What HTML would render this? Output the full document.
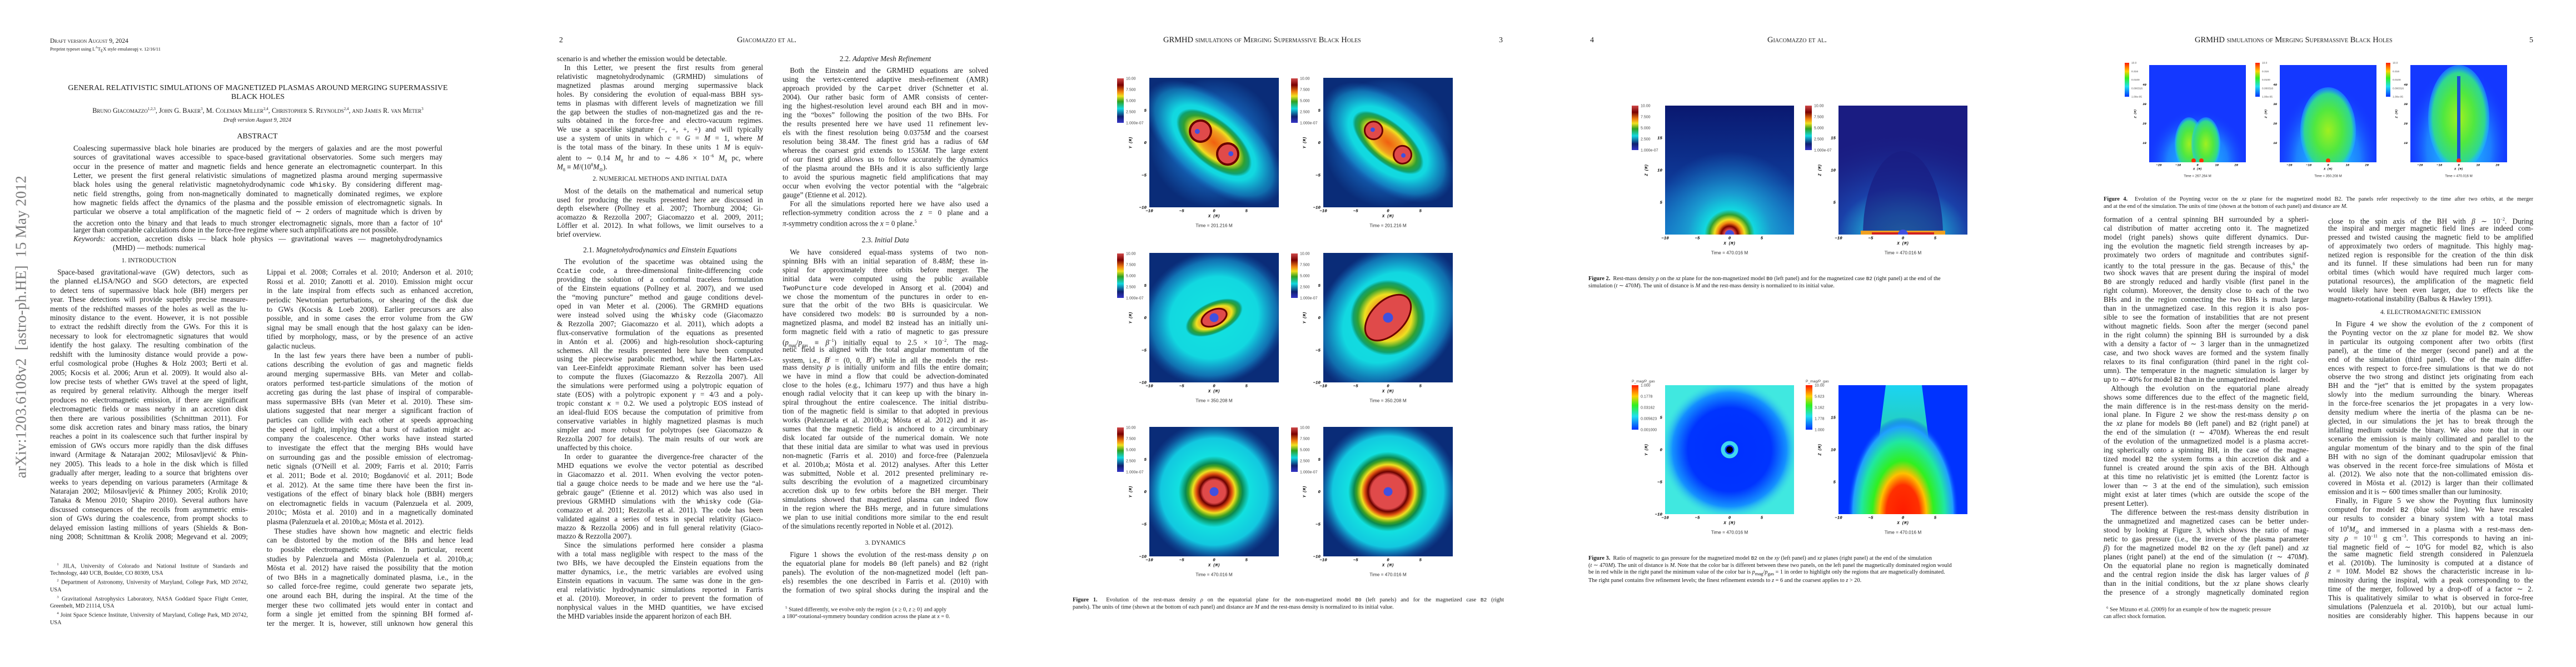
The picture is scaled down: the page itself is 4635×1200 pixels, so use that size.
<!DOCTYPE html>
<html><head><meta charset="utf-8">
<style>
html,body{margin:0;padding:0;background:#fff;}
body{width:4635px;height:1200px;position:relative;overflow:hidden;font-family:"Liberation Serif",serif;color:#1a1a1a;}
.a{position:absolute;white-space:nowrap;}
.ln{position:absolute;white-space:nowrap;text-align:justify;text-align-last:justify;overflow:visible;}
.ln.e{text-align:left;text-align-last:left;}
.ln.i{text-indent:1em;}
.sc{font-variant:small-caps;}
.hd{position:absolute;white-space:nowrap;text-align:center;}
code,.tt{font-family:"Liberation Mono",monospace;font-size:0.92em;}
svg text{font-family:"Liberation Sans",sans-serif;}
</style></head>
<body>

<!-- arXiv stamp -->
<div class="a" style="left:38px;top:588px;transform:translate(-50%,-50%) rotate(-90deg);font-size:27px;color:#7a7a7a;letter-spacing:0.3px;">arXiv:1203.6108v2&nbsp; [astro-ph.HE]&nbsp; 15 May 2012</div>

<!-- Page 1 header -->
<div class="a sc" style="left:90px;top:68px;font-size:11.5px;">Draft version August 9, 2024</div>
<div class="a" style="left:90px;top:83px;font-size:8.5px;">Preprint typeset using L<sup style="font-size:6px">A</sup>T<sub style="font-size:7px">E</sub>X style emulateapj v. 12/16/11</div>
<div class="hd" style="left:95px;width:738px;top:151px;font-size:14px;line-height:15.5px;">GENERAL RELATIVISTIC SIMULATIONS OF MAGNETIZED PLASMAS AROUND MERGING SUPERMASSIVE<br>BLACK HOLES</div>
<div class="hd sc" style="left:60px;width:808px;top:192px;font-size:12.3px;">Bruno Giacomazzo<sup style="font-size:7px">1,2,3</sup>, John G. Baker<sup style="font-size:7px">3</sup>, M. Coleman Miller<sup style="font-size:7px">2,4</sup>, Christopher S. Reynolds<sup style="font-size:7px">2,4</sup>, and James R. van Meter<sup style="font-size:7px">3</sup></div>
<div class="hd" style="left:263px;width:400px;top:211px;font-size:10.5px;font-style:italic;">Draft version August 9, 2024</div>
<div class="hd" style="left:363px;width:200px;top:238px;font-size:14px;">ABSTRACT</div>

<div id="cols"></div>

<!-- footnotes page 1 -->
<div class="a" style="left:90px;top:1009px;width:356px;font-size:10.3px;line-height:13px;white-space:normal;text-align:justify;">
<div style="text-indent:1.2em"><sup style="font-size:6.5px">1</sup> JILA, University of Colorado and National Institute of Standards and Technology, 440 UCB, Boulder, CO 80309, USA</div>
<div style="text-indent:1.2em"><sup style="font-size:6.5px">2</sup> Department of Astronomy, University of Maryland, College Park, MD 20742, USA</div>
<div style="text-indent:1.2em"><sup style="font-size:6.5px">3</sup> Gravitational Astrophysics Laboratory, NASA Goddard Space Flight Center, Greenbelt, MD 21114, USA</div>
<div style="text-indent:1.2em"><sup style="font-size:6.5px">4</sup> Joint Space Science Institute, University of Maryland, College Park, MD 20742, USA</div>
</div>

<!-- running headers -->
<div class="a" style="left:1006px;top:65px;font-size:14px;">2</div>
<div class="a sc" style="left:1326px;top:64px;font-size:14.5px;">Giacomazzo et al.</div>
<div class="a sc" style="left:2093px;top:64px;font-size:14.5px;">GRMHD simulations of Merging Supermassive Black Holes</div>
<div class="a" style="left:2697px;top:65px;font-size:14px;">3</div>
<div class="a" style="left:2861px;top:65px;font-size:14px;">4</div>
<div class="a sc" style="left:3180px;top:64px;font-size:14.5px;">Giacomazzo et al.</div>
<div class="a sc" style="left:3949px;top:64px;font-size:14.5px;">GRMHD simulations of Merging Supermassive Black Holes</div>
<div class="a" style="left:4551px;top:65px;font-size:14px;">5</div>

<!-- captions -->
<div class="a" style="left:1930px;top:1073px;width:776px;font-size:10.3px;line-height:13px;">
<div style="text-align:justify;text-align-last:justify;"><b>Figure 1.</b>&nbsp; Evolution of the rest-mass density <i>ρ</i> on the equatorial plane for the non-magnetized model <span class="tt">B0</span> (left panels) and for the magnetized case <span class="tt">B2</span> (right</div>
<div>panels). The units of time (shown at the bottom of each panel) and distance are <i>M</i> and the rest-mass density is normalized to its initial value.</div></div>
<div class="a" style="left:2858px;top:495px;width:1000px;font-size:10.3px;line-height:13px;">
<div><b>Figure 2.</b>&nbsp; Rest-mass density <i>ρ</i> on the <i>xz</i> plane for the non-magnetized model <span class="tt">B0</span> (left panel) and for the magnetized case <span class="tt">B2</span> (right panel) at the end of the</div>
<div>simulation (<i>t</i> ∼ 470<i>M</i>). The unit of distance is <i>M</i> and the rest-mass density is normalized to its initial value.</div></div>
<div class="a" style="left:2858px;top:999px;width:1000px;font-size:10.3px;line-height:12.7px;">
<div><b>Figure 3.</b>&nbsp; Ratio of magnetic to gas pressure for the magnetized model <span class="tt">B2</span> on the <i>xy</i> (left panel) and <i>xz</i> planes (right panel) at the end of the simulation</div>
<div>(<i>t</i> ∼ 470<i>M</i>). The unit of distance is <i>M</i>. Note that the color bar is different between these two panels, on the left panel the magnetically dominated region would</div>
<div>be in red while in the right panel the minimum value of the color bar is <i>p</i><sub>mag</sub>/<i>p</i><sub>gas</sub> = 1 in order to highlight only the regions that are magnetically dominated.</div>
<div>The right panel contains five refinement levels; the finest refinement extends to <i>z</i> = 6 and the coarsest applies to <i>z</i> &gt; 20.</div></div>
<div class="a" style="left:3785px;top:352px;width:773px;font-size:10.3px;line-height:13px;">
<div style="text-align:justify;text-align-last:justify;"><b>Figure 4.</b>&nbsp; Evolution of the Poynting vector on the <i>xz</i> plane for the magnetized model B2. The panels refer respectively to the time after two orbits, at the merger</div>
<div>and at the end of the simulation. The units of time (shown at the bottom of each panel) and distance are <i>M</i>.</div></div>

<!-- footnotes -->
<div class="a" style="left:1408px;top:1088px;font-size:10.3px;line-height:12.5px;">
<div>&nbsp;&nbsp;<sup style="font-size:6.5px">5</sup> Stated differently, we evolve only the region {<i>x</i> ≥ 0, <i>z</i> ≥ 0} and apply</div>
<div>a 180°-rotational-symmetry boundary condition across the plane at <i>x</i> = 0.</div></div>
<div class="a" style="left:3785px;top:1088px;font-size:10.3px;line-height:12.5px;">
<div>&nbsp;&nbsp;<sup style="font-size:6.5px">6</sup> See Mizuno et al. (2009) for an example of how the magnetic pressure</div>
<div>can affect shock formation.</div></div>

<svg id="figs" width="4635" height="1200" style="position:absolute;left:0;top:0;" xmlns="http://www.w3.org/2000/svg">
<defs>
<radialGradient id="bgN"><stop offset="0" stop-color="#1a8cd2"/><stop offset="0.55" stop-color="#1464b8"/><stop offset="1" stop-color="#0a2c78"/></radialGradient>
<radialGradient id="halo"><stop offset="0" stop-color="#12e4e0"/><stop offset="0.6" stop-color="#12d8e0"/><stop offset="0.85" stop-color="#1498d0" stop-opacity="0.6"/><stop offset="1" stop-color="#1464b8" stop-opacity="0"/></radialGradient>
<radialGradient id="lobe"><stop offset="0" stop-color="#f06010"/><stop offset="0.45" stop-color="#f0a020"/><stop offset="0.62" stop-color="#f0e020"/><stop offset="0.8" stop-color="#30a030"/><stop offset="0.92" stop-color="#10a070"/><stop offset="1" stop-color="#12d8e0"/></radialGradient>
<radialGradient id="concA"><stop offset="0" stop-color="#e04a4a"/><stop offset="0.16" stop-color="#e04a4a"/><stop offset="0.2" stop-color="#6a0000"/><stop offset="0.25" stop-color="#e05010"/><stop offset="0.3" stop-color="#f0e020"/><stop offset="0.36" stop-color="#40a020"/><stop offset="0.4" stop-color="#0a8a50"/><stop offset="0.5" stop-color="#12e0e0"/><stop offset="0.75" stop-color="#12c8e0"/><stop offset="1" stop-color="#1464b8" stop-opacity="0"/></radialGradient>
<radialGradient id="concB"><stop offset="0" stop-color="#e04a4a"/><stop offset="0.24" stop-color="#e04a4a"/><stop offset="0.28" stop-color="#6a0000"/><stop offset="0.33" stop-color="#e05010"/><stop offset="0.38" stop-color="#f0e020"/><stop offset="0.44" stop-color="#40a020"/><stop offset="0.48" stop-color="#0a8a50"/><stop offset="0.56" stop-color="#12e0e0"/><stop offset="0.78" stop-color="#12c8e0"/><stop offset="1" stop-color="#1464b8" stop-opacity="0"/></radialGradient>
<linearGradient id="navyV" x1="0" y1="0" x2="0" y2="1"><stop offset="0" stop-color="#0a1870"/><stop offset="0.6" stop-color="#0e3a98"/><stop offset="1" stop-color="#1676c8"/></linearGradient>
<radialGradient id="bowl"><stop offset="0" stop-color="#4050e0"/><stop offset="0.05" stop-color="#4050e0"/><stop offset="0.06" stop-color="#e04a4a"/><stop offset="0.1" stop-color="#7a0000"/><stop offset="0.14" stop-color="#f08010"/><stop offset="0.18" stop-color="#f0e020"/><stop offset="0.24" stop-color="#30a030"/><stop offset="0.3" stop-color="#12d8e0"/><stop offset="0.5" stop-color="#1a9ad0"/><stop offset="1" stop-color="#1676c8" stop-opacity="0"/></radialGradient>
<radialGradient id="cyanBowl"><stop offset="0" stop-color="#30e8e0"/><stop offset="0.2" stop-color="#20b0d8"/><stop offset="0.45" stop-color="#1a40a8"/><stop offset="1" stop-color="#1a1a80" stop-opacity="0"/></radialGradient>
<radialGradient id="blueDisk"><stop offset="0" stop-color="#0030ff"/><stop offset="0.6" stop-color="#0034ff"/><stop offset="0.82" stop-color="#1490ff"/><stop offset="1" stop-color="#40e8e0" stop-opacity="0"/></radialGradient>
<radialGradient id="plume"><stop offset="0" stop-color="#ff1a00"/><stop offset="0.3" stop-color="#ff3000"/><stop offset="0.42" stop-color="#ffc000"/><stop offset="0.55" stop-color="#30f020"/><stop offset="0.75" stop-color="#20e8a0"/><stop offset="0.9" stop-color="#20a0ff"/><stop offset="1" stop-color="#0033ff" stop-opacity="0"/></radialGradient>
<linearGradient id="cone" x1="0" y1="0" x2="0" y2="1"><stop offset="0" stop-color="#20f0f0"/><stop offset="1" stop-color="#30e890"/></linearGradient>
<radialGradient id="pHalo"><stop offset="0" stop-color="#20e0ff"/><stop offset="0.6" stop-color="#20a0ff" stop-opacity="0.7"/><stop offset="1" stop-color="#1438ff" stop-opacity="0"/></radialGradient>
<radialGradient id="pLobe"><stop offset="0" stop-color="#a0f020"/><stop offset="0.5" stop-color="#50e840"/><stop offset="0.85" stop-color="#30d890"/><stop offset="1" stop-color="#20c0ff" stop-opacity="0.4"/></radialGradient>
<linearGradient id="cbDens" x1="0" y1="0" x2="0" y2="1"><stop offset="0" stop-color="#d04a4a"/><stop offset="0.15" stop-color="#7a0000"/><stop offset="0.3" stop-color="#f08010"/><stop offset="0.4" stop-color="#f0e020"/><stop offset="0.52" stop-color="#30a020"/><stop offset="0.68" stop-color="#12d8e0"/><stop offset="0.86" stop-color="#102070"/><stop offset="1" stop-color="#3535c8"/></linearGradient>
<linearGradient id="cbJet" x1="0" y1="0" x2="0" y2="1"><stop offset="0" stop-color="#ff1a00"/><stop offset="0.25" stop-color="#ffd000"/><stop offset="0.45" stop-color="#30f020"/><stop offset="0.7" stop-color="#20e0f0"/><stop offset="1" stop-color="#0030ff"/></linearGradient>
</defs>

<!-- Figure 1 panels -->
<svg x="2068" y="140" width="233" height="233">
<rect width="233" height="233" fill="url(#bgN)"/>
<g transform="translate(116.5,116.5) rotate(40)"><ellipse rx="150" ry="76" fill="url(#halo)"/><ellipse rx="82" ry="40" fill="url(#lobe)"/>
<circle cx="-32" r="19" fill="#e04a4a" stroke="#6a0000" stroke-width="4"/><circle cx="32" r="19" fill="#e04a4a" stroke="#6a0000" stroke-width="4"/>
<circle cx="-36" cy="4" r="4.5" fill="#4050e0"/><circle cx="36" cy="-4" r="4.5" fill="#4050e0"/></g></svg>
<svg x="2381" y="140" width="233" height="233">
<rect width="233" height="233" fill="url(#bgN)"/>
<g transform="translate(116.5,116.5) rotate(40)"><ellipse rx="140" ry="80" fill="url(#halo)"/><ellipse rx="78" ry="36" fill="url(#lobe)"/>
<circle cx="-34" r="16" fill="#e04a4a" stroke="#6a0000" stroke-width="3"/><circle cx="34" r="16" fill="#e04a4a" stroke="#6a0000" stroke-width="3"/>
<circle cx="-36" cy="0" r="4" fill="#4050e0"/><circle cx="36" cy="0" r="4" fill="#4050e0"/></g></svg>
<svg x="2068" y="455" width="233" height="233">
<rect width="233" height="233" fill="url(#bgN)"/>
<g transform="translate(116.5,116.5) rotate(-25)"><ellipse rx="135" ry="120" fill="url(#halo)"/><ellipse rx="55" ry="28" fill="url(#lobe)"/>
<ellipse rx="24" ry="14" fill="#e04a4a" stroke="#6a0000" stroke-width="3"/><circle r="8" fill="#4050e0"/></g></svg>
<svg x="2381" y="455" width="233" height="233">
<rect width="233" height="233" fill="url(#bgN)"/>
<g transform="translate(116.5,116.5) rotate(-45)"><ellipse rx="150" ry="118" fill="url(#halo)"/><circle r="68" fill="url(#lobe)"/>
<ellipse rx="50" ry="30" fill="#e04a4a" stroke="#6a0000" stroke-width="3"/><circle r="9" fill="#4050e0"/></g></svg>
<svg x="2068" y="768" width="233" height="233">
<rect width="233" height="233" fill="url(#bgN)"/><circle cx="116.5" cy="116.5" r="128" fill="url(#concA)"/><circle cx="116.5" cy="116.5" r="8" fill="#4050e0"/></svg>
<svg x="2381" y="768" width="233" height="233">
<rect width="233" height="233" fill="url(#bgN)"/><circle cx="116.5" cy="116.5" r="128" fill="url(#concB)"/><circle cx="116.5" cy="116.5" r="8" fill="#4050e0"/></svg>

<!-- Figure 2 -->
<svg x="2996" y="190" width="232" height="232">
<rect width="232" height="232" fill="url(#navyV)"/><circle cx="116" cy="232" r="150" fill="url(#bowl)"/></svg>
<svg x="3308" y="190" width="232" height="232">
<rect width="232" height="232" fill="#1a1c82"/><ellipse cx="116" cy="232" rx="260" ry="190" fill="url(#cyanBowl)"/>
<ellipse cx="116" cy="232" rx="72" ry="150" fill="#1a1c82" opacity="0.7"/>
<rect x="40" y="225" width="152" height="7" fill="#f0a020"/><rect x="60" y="228" width="112" height="4" fill="#d02020"/><circle cx="116" cy="232" r="9" fill="#4050e0"/></svg>

<!-- Figure 3 -->
<svg x="2996" y="693" width="232" height="232">
<rect width="232" height="232" fill="#40e8e0"/><circle cx="116" cy="116" r="125" fill="url(#blueDisk)"/>
<circle cx="116" cy="116" r="12" fill="none" stroke="#40d8f0" stroke-width="7"/><circle cx="116" cy="116" r="6" fill="#000"/></svg>
<svg x="3308" y="693" width="232" height="232">
<rect width="232" height="232" fill="#0033ff"/><path d="M85,0 L150,0 L165,120 L70,120 Z" fill="url(#cone)" opacity="0.85"/>
<ellipse cx="116" cy="232" rx="100" ry="175" fill="url(#plume)"/></svg>

<!-- Figure 4 -->
<svg x="3867" y="117" width="174" height="175">
<rect width="174" height="175" fill="#1438ff"/><ellipse cx="87" cy="175" rx="90" ry="95" fill="url(#pHalo)"/>
<ellipse cx="72" cy="142" rx="26" ry="48" fill="url(#pLobe)"/><ellipse cx="102" cy="142" rx="26" ry="48" fill="url(#pLobe)"/>
<circle cx="80" cy="172" r="4" fill="#ff3000"/><circle cx="94" cy="172" r="4" fill="#ff3000"/></svg>
<svg x="4102" y="117" width="174" height="175">
<rect width="174" height="175" fill="#1438ff"/><ellipse cx="87" cy="175" rx="95" ry="140" fill="url(#pHalo)"/>
<ellipse cx="87" cy="118" rx="50" ry="78" fill="url(#pLobe)"/><circle cx="87" cy="172" r="4" fill="#ff3000"/></svg>
<svg x="4337" y="117" width="174" height="175">
<rect width="174" height="175" fill="#1438ff"/><ellipse cx="87" cy="150" rx="95" ry="150" fill="url(#pHalo)"/>
<ellipse cx="87" cy="95" rx="55" ry="95" fill="url(#pLobe)"/><rect x="84" y="20" width="6" height="155" fill="#1a50d0"/><circle cx="87" cy="172" r="4" fill="#ff3000"/></svg>
<g id="axes"></g>
</svg>

<script>
// ---------- figure axes / colorbars data ----------
const densCbLabels = ["10.00","7.500","5.000","2.500","1.000e-07"];
const pmLeftCbLabels = ["1.000","0.1778","0.03162","0.005623","0.001000"];
const pmRightCbLabels = ["10.00","5.623","3.162","1.778","1.000"];
const poyCbLabels = ["10.0","0.316","0.0100","0.000316","1.00e-05"];
const xyTicks = [-10,-5,0,5];
const yTicksXY = [5,0,-5,-10];
const zTicks = [5,10,15];
const xTicksWide = [-20,-10,0,10,20];
const zTicksWide = [10,20,30,40];
const fig1Times = ["201.216","350.208","470.016"];
const fig4Times = ["267.264","350.208","470.016"];

const NS="http://www.w3.org/2000/svg";
const axesG=document.getElementById('axes');
function txt(x,y,s,size,anchor,extra){
  const t=document.createElementNS(NS,'text');
  t.setAttribute('x',x);t.setAttribute('y',y);t.setAttribute('font-size',size);
  t.setAttribute('text-anchor',anchor||'start');
  if(extra) t.setAttribute('style',extra);
  t.textContent=s;axesG.appendChild(t);return t;
}
function panelAxes(p){
  const sx=v=>p.x+(v-p.xr[0])/(p.xr[1]-p.xr[0])*p.w;
  const sy=v=>p.y+p.h-(v-p.yr[0])/(p.yr[1]-p.yr[0])*p.h;
  const tk="font-weight:bold;font-style:italic;font-family:'Liberation Mono',monospace;";
  p.xt.forEach(v=>{const t=txt(sx(v),p.y+p.h+p.fs+1,String(v).replace('-','−'),p.fs,'middle',tk);
    
    });
  p.yt.forEach(v=>{const t=txt(p.x-5,sy(v)+p.fs*0.35,String(v).replace('-','−'),p.fs,'end',tk);
    
    });
  const xl=txt(p.x+p.w/2,p.y+p.h+p.fs*2.4,p.xlab,p.fs*0.95,'middle',tk);
  
  
  const ylx=p.x-p.fs*4.2, yly=p.y+p.h/2;
  const yl=txt(ylx,yly,p.ylab,p.fs*0.95,'middle',tk);
  yl.setAttribute('transform','rotate(-90 '+ylx+' '+yly+')');
  
  
  const tl=txt(p.x+p.w/2,p.y+p.h+p.fs*4.7,'Time = '+p.time+' M',p.fs*1.1,'middle','fill:#333;');
  
  
  // colorbar
  const r=document.createElementNS(NS,'rect');
  r.setAttribute('x',p.cbx);r.setAttribute('y',p.cby);r.setAttribute('width',p.cbw);r.setAttribute('height',p.cbh);
  r.setAttribute('fill',p.cbg);
  
  
  axesG.appendChild(r);
  p.cbl.forEach((s,i)=>{const t=txt(p.cbx+p.cbw+4,p.cby+i*p.cbh/(p.cbl.length-1)+p.cfs*0.35,s,p.cfs,'start','fill:#444;');
    
    });
  if(p.cbt){const t=txt(p.cbx,p.cby-5,p.cbt,p.cfs*0.95,'start','fill:#444;');
    
    }
}
[2068,2381].forEach(px=>{[140,455,768].forEach((py,ri)=>{
  panelAxes({x:px,y:py,w:233,h:233,xr:[-10,10],yr:[-10,10],xt:xyTicks,yt:yTicksXY,xlab:'X  (M)',ylab:'Y  (M)',fs:7.5,time:fig1Times[ri],
    cbx:px-58,cby:py+1,cbw:12,cbh:80,cbg:'url(#cbDens)',cbl:densCbLabels,cfs:7});});});
[2996,3308].forEach(px=>{
  panelAxes({x:px,y:190,w:232,h:232,xr:[-10,10],yr:[0,20],xt:xyTicks,yt:zTicks,xlab:'X  (M)',ylab:'Z  (M)',fs:7.5,time:'470.016',
    cbx:px-60,cby:190,cbw:12,cbh:80,cbg:'url(#cbDens)',cbl:densCbLabels,cfs:7});});
panelAxes({x:2996,y:693,w:232,h:232,xr:[-10,10],yr:[-10,10],xt:xyTicks,yt:yTicksXY,xlab:'X  (M)',ylab:'Y  (M)',fs:7.5,time:'470.016',
  cbx:2936,cby:693,cbw:12,cbh:80,cbg:'url(#cbJet)',cbl:pmLeftCbLabels,cfs:7,cbt:'P_mag/P_gas'});
panelAxes({x:3308,y:693,w:232,h:232,xr:[-10,10],yr:[0,20],xt:xyTicks,yt:zTicks,xlab:'X  (M)',ylab:'Z  (M)',fs:7.5,time:'470.016',
  cbx:3249,cby:693,cbw:12,cbh:80,cbg:'url(#cbJet)',cbl:pmRightCbLabels,cfs:7,cbt:'P_mag/P_gas'});
[3867,4102,4337].forEach((px,i)=>{
  panelAxes({x:px,y:117,w:174,h:175,xr:[-25,25],yr:[0,50],xt:xTicksWide,yt:zTicksWide,xlab:'X  (M)',ylab:'Z  (M)',fs:5.6,time:fig4Times[i],
    cbx:px-44,cby:113,cbw:8,cbh:61,cbg:'url(#cbJet)',cbl:poyCbLabels,cfs:4.8});});

// ---------- text columns ----------
const colsDiv=document.getElementById('cols');
function col(x,w,first,last,lines,fs){
  const n=lines.length, lh=n>1?(last-first)/(n-1):16;
  lines.forEach((s,i)=>{
    const d=document.createElement('div');
    let cls='ln';
    if(s.startsWith('^')){s=s.slice(1);cls+=' i';}
    if(s.endsWith('$')){s=s.slice(0,-1);cls+=' e';}
    d.className=cls;
    d.style.left=x+'px';d.style.width=w+'px';
    d.style.top=(first+i*lh-9)+'px';d.style.height='18px';d.style.lineHeight='18px';
    d.style.fontSize=(fs||13.2)+'px';
    d.innerHTML=s;
    
    
    colsDiv.appendChild(d);
  });
}
function head(x,w,y,s,style){
  const d=document.createElement('div');
  d.className='hd';d.style.left=x+'px';d.style.width=w+'px';d.style.top=(y-9)+'px';
  d.style.lineHeight='18px';d.style.cssText+=style||'font-size:11.5px;';
  d.innerHTML=s;
  
  
  colsDiv.appendChild(d);
}

col(132,664,267,414,[
"Coalescing supermassive black hole binaries are produced by the mergers of galaxies and are the most powerful",
"sources of gravitational waves accessible to space-based gravitational observatories. Some such mergers may",
"occur in the presence of matter and magnetic fields and hence generate an electromagnetic counterpart. In this",
"Letter, we present the first general relativistic simulations of magnetized plasma around merging supermassive",
"black holes using the general relativistic magnetohydrodynamic code <span class='tt'>Whisky</span>. By considering different mag-",
"netic field strengths, going from non-magnetically dominated to magnetically dominated regimes, we explore",
"how magnetic fields affect the dynamics of the plasma and the possible emission of electromagnetic signals. In",
"particular we observe a total amplification of the magnetic field of ∼ 2 orders of magnitude which is driven by",
"the accretion onto the binary and that leads to much stronger electromagnetic signals, more than a factor of 10<sup style='font-size:8px'>4</sup>",
"larger than comparable calculations done in the force-free regime where such amplifications are not possible.$"],13.4);
col(132,664,430,430,["<i>Keywords:</i> accretion, accretion disks — black hole physics — gravitational waves — magnetohydrodynamics"],13.4);
col(203,400,446,446,["(MHD) — methods: numerical$"],13.4);
head(90,356,469,"1. INTRODUCTION");

col(90,356,490,966,[
"^Space-based gravitational-wave (GW) detectors, such as",
"the planned eLISA/NGO and SGO detectors, are expected",
"to detect tens of supermassive black hole (BH) mergers per",
"year. These detections will provide superbly precise measure-",
"ments of the redshifted masses of the holes as well as the lu-",
"minosity distance to the event. However, it is not possible",
"to extract the redshift directly from the GWs. For this it is",
"necessary to look for electromagnetic signatures that would",
"identify the host galaxy. The resulting combination of the",
"redshift with the luminosity distance would provide a pow-",
"erful cosmological probe (Hughes &amp; Holz 2003; Berti et al.",
"2005; Kocsis et al. 2006; Arun et al. 2009). It would also al-",
"low precise tests of whether GWs travel at the speed of light,",
"as required by general relativity. Although the merger itself",
"produces no electromagnetic emission, if there are significant",
"electromagnetic fields or mass nearby in an accretion disk",
"then there are various possibilities (Schnittman 2011). For",
"some disk accretion rates and binary mass ratios, the binary",
"reaches a point in its coalescence such that further inspiral by",
"emission of GWs occurs more rapidly than the disk diffuses",
"inward (Armitage &amp; Natarajan 2002; Milosavljević &amp; Phin-",
"ney 2005). This leads to a hole in the disk which is filled",
"gradually after merger, leading to a source that brightens over",
"weeks to years depending on various parameters (Armitage &amp;",
"Natarajan 2002; Milosavljević &amp; Phinney 2005; Krolik 2010;",
"Tanaka &amp; Menou 2010; Shapiro 2010). Several authors have",
"discussed consequences of the recoils from asymmetric emis-",
"sion of GWs during the coalescence, from prompt shocks to",
"delayed emission lasting millions of years (Shields &amp; Bon-",
"ning 2008; Schnittman &amp; Krolik 2008; Megevand et al. 2009;"]);

col(480,371,490,1122,[
"Lippai et al. 2008; Corrales et al. 2010; Anderson et al. 2010;",
"Rossi et al. 2010; Zanotti et al. 2010). Emission might occur",
"in the late inspiral from effects such as enhanced accretion,",
"periodic Newtonian perturbations, or shearing of the disk due",
"to GWs (Kocsis &amp; Loeb 2008). Earlier precursors are also",
"possible, and in some cases the error volume from the GW",
"signal may be small enough that the host galaxy can be iden-",
"tified by morphology, mass, or by the presence of an active",
"galactic nucleus.$",
"^In the last few years there have been a number of publi-",
"cations describing the evolution of gas and magnetic fields",
"around merging supermassive BHs. van Meter and collab-",
"orators performed test-particle simulations of the motion of",
"accreting gas during the last phase of inspiral of comparable-",
"mass supermassive BHs (van Meter et al. 2010). These sim-",
"ulations suggested that near merger a significant fraction of",
"particles can collide with each other at speeds approaching",
"the speed of light, implying that a burst of radiation might ac-",
"company the coalescence. Other works have instead started",
"to investigate the effect that the merging BHs would have",
"on surrounding gas and the possible emission of electromag-",
"netic signals (O'Neill et al. 2009; Farris et al. 2010; Farris",
"et al. 2011; Bode et al. 2010; Bogdanović et al. 2011; Bode",
"et al. 2012). At the same time there have been the first in-",
"vestigations of the effect of binary black hole (BBH) mergers",
"on electromagnetic fields in vacuum (Palenzuela et al. 2009,",
"2010c; Mösta et al. 2010) and in a magnetically dominated",
"plasma (Palenzuela et al. 2010b,a; Mösta et al. 2012).$",
"^These studies have shown how magnetic and electric fields",
"can be distorted by the motion of the BHs and hence lead",
"to possible electromagnetic emission. In particular, recent",
"studies by Palenzuela and Mösta (Palenzuela et al. 2010b,a;",
"Mösta et al. 2012) have raised the possibility that the motion",
"of two BHs in a magnetically dominated plasma, i.e., in the",
"so called force-free regime, could generate two separate jets,",
"one around each BH, during the inspiral. At the time of the",
"merger these two collimated jets would enter in contact and",
"form a single jet emitted from the spinning BH formed af-",
"ter the merger. It is, however, still unknown how general this"]);

// page 2 left
col(1002,371,106,297,[
"scenario is and whether the emission would be detectable.$",
"^In this Letter, we present the first results from general",
"relativistic magnetohydrodynamic (GRMHD) simulations of",
"magnetized plasmas around merging supermassive black",
"holes. By considering the evolution of equal-mass BBH sys-",
"tems in plasmas with different levels of magnetization we fill",
"the gap between the studies of non-magnetized gas and the re-",
"sults obtained in the force-free and electro-vacuum regimes.",
"We use a spacelike signature (−, +, +, +) and will typically",
"use a system of units in which <i>c</i> = <i>G</i> = <i>M</i> = 1, where <i>M</i>",
"is the total mass of the binary. In these units 1 <i>M</i> is equiv-",
"alent to ∼ 0.14 <i>M</i><sub style='font-size:8px'>8</sub> hr and to ∼ 4.86 × 10<sup style='font-size:8px'>−6</sup> <i>M</i><sub style='font-size:8px'>8</sub> pc, where",
"<i>M</i><sub style='font-size:8px'>8</sub> ≡ <i>M</i>/(10<sup style='font-size:8px'>8</sup><i>M</i><sub style='font-size:8px'>⊙</sub>).$"]);
head(1002,371,322,"2. NUMERICAL METHODS AND INITIAL DATA");
col(1002,371,344,422,[
"^Most of the details on the mathematical and numerical setup",
"used for producing the results presented here are discussed in",
"depth elsewhere (Pollney et al. 2007; Thornburg 2004; Gi-",
"acomazzo &amp; Rezzolla 2007; Giacomazzo et al. 2009, 2011;",
"Löffler et al. 2012). In what follows, we limit ourselves to a",
"brief overview.$"]);
head(1002,371,450,"2.1. <i>Magnetohydrodynamics and Einstein Equations</i>","font-size:13.2px;");
col(1002,371,471,1109,[
"^The evolution of the spacetime was obtained using the",
"<span class='tt'>Ccatie</span> code, a three-dimensional finite-differencing code",
"providing the solution of a conformal traceless formulation",
"of the Einstein equations (Pollney et al. 2007), and we used",
"the “moving puncture” method and gauge conditions devel-",
"oped in van Meter et al. (2006). The GRMHD equations",
"were instead solved using the <span class='tt'>Whisky</span> code (Giacomazzo",
"&amp; Rezzolla 2007; Giacomazzo et al. 2011), which adopts a",
"flux-conservative formulation of the equations as presented",
"in Antón et al. (2006) and high-resolution shock-capturing",
"schemes. All the results presented here have been computed",
"using the piecewise parabolic method, while the Harten-Lax-",
"van Leer-Einfeldt approximate Riemann solver has been used",
"to compute the fluxes (Giacomazzo &amp; Rezzolla 2007). All",
"the simulations were performed using a polytropic equation of",
"state (EOS) with a polytropic exponent <i>γ</i> = 4/3 and a poly-",
"tropic constant <i>κ</i> = 0.2. We used a polytropic EOS instead of",
"an ideal-fluid EOS because the computation of primitive from",
"conservative variables in highly magnetized plasmas is much",
"simpler and more robust for polytropes (see Giacomazzo &amp;",
"Rezzolla 2007 for details). The main results of our work are",
"unaffected by this choice.$",
"^In order to guarantee the divergence-free character of the",
"MHD equations we evolve the vector potential as described",
"in Giacomazzo et al. 2011. When evolving the vector poten-",
"tial a gauge choice needs to be made and we here use the “al-",
"gebraic gauge” (Etienne et al. 2012) which was also used in",
"previous GRMHD simulations with the <span class='tt'>Whisky</span> code (Gia-",
"comazzo et al. 2011; Rezzolla et al. 2011). The code has been",
"validated against a series of tests in special relativity (Giaco-",
"mazzo &amp; Rezzolla 2006) and in full general relativity (Giaco-",
"mazzo &amp; Rezzolla 2007).$",
"^Since the simulations performed here consider a plasma",
"with a total mass negligible with respect to the mass of the",
"two BHs, we have decoupled the Einstein equations from the",
"matter dynamics, i.e., the metric variables are evolved using",
"Einstein equations in vacuum. The same was done in the gen-",
"eral relativistic hydrodynamic simulations reported in Farris",
"et al. (2010). Moreover, in order to prevent the formation of",
"nonphysical values in the MHD quantities, we have excised",
"the MHD variables inside the apparent horizon of each BH.$"]);

// page 2 right
head(1408,370,106,"2.2. <i>Adaptive Mesh Refinement</i>","font-size:13.2px;");
col(1408,370,127,399,[
"^Both the Einstein and the GRMHD equations are solved",
"using the vertex-centered adaptive mesh-refinement (AMR)",
"approach provided by the <span class='tt'>Carpet</span> driver (Schnetter et al.",
"2004). Our rather basic form of AMR consists of center-",
"ing the highest-resolution level around each BH and in mov-",
"ing the “boxes” following the position of the two BHs. For",
"the results presented here we have used 11 refinement lev-",
"els with the finest resolution being 0.0375<i>M</i> and the coarsest",
"resolution being 38.4<i>M</i>. The finest grid has a radius of 6<i>M</i>",
"whereas the coarsest grid extends to 1536<i>M</i>. The large extent",
"of our finest grid allows us to follow accurately the dynamics",
"of the plasma around the BHs and it is also sufficiently large",
"to avoid the spurious magnetic field amplifications that may",
"occur when evolving the vector potential with the “algebraic",
"gauge” (Etienne et al. 2012).$",
"^For all the simulations reported here we have also used a",
"reflection-symmetry condition across the <i>z</i> = 0 plane and a",
"<i>π</i>-symmetry condition across the <i>x</i> = 0 plane.<sup style='font-size:8px'>5</sup>$"]);
head(1408,370,432,"2.3. <i>Initial Data</i>","font-size:13.2px;");
col(1408,370,454,947,[
"^We have considered equal-mass systems of two non-",
"spinning BHs with an initial separation of 8.48<i>M</i>; these in-",
"spiral for approximately three orbits before merger. The",
"initial data were computed using the public available",
"<span class='tt'>TwoPuncture</span> code developed in Ansorg et al. (2004) and",
"we chose the momentum of the punctures in order to en-",
"sure that the orbit of the two BHs is quasicircular. We",
"have considered two models: <span class='tt'>B0</span> is surrounded by a non-",
"magnetized plasma, and model <span class='tt'>B2</span> instead has an initially uni-",
"form magnetic field with a ratio of magnetic to gas pressure",
"(<i>p</i><sub style='font-size:8px'>mag</sub>/<i>p</i><sub style='font-size:8px'>gas</sub> ≡ <i>β</i><sup style='font-size:8px'>−1</sup>) initially equal to 2.5 × 10<sup style='font-size:8px'>−2</sup>. The mag-",
"netic field is aligned with the total angular momentum of the",
"system, i.e., <i>B<sup style='font-size:8px'>i</sup></i> = (0, 0, <i>B<sup style='font-size:8px'>z</sup></i>) while in all the models the rest-",
"mass density <i>ρ</i> is initially uniform and fills the entire domain;",
"we have in mind a flow that could be advection-dominated",
"close to the holes (e.g., Ichimaru 1977) and thus have a high",
"enough radial velocity that it can keep up with the binary in-",
"spiral throughout the entire coalescence. The initial distribu-",
"tion of the magnetic field is similar to that adopted in previous",
"works (Palenzuela et al. 2010b,a; Mösta et al. 2012) and it as-",
"sumes that the magnetic field is anchored to a circumbinary",
"disk located far outside of the numerical domain. We note",
"that these initial data are similar to what was used in previous",
"non-magnetic (Farris et al. 2010) and force-free (Palenzuela",
"et al. 2010b,a; Mösta et al. 2012) analyses. After this Letter",
"was submitted, Noble et al. 2012 presented preliminary re-",
"sults describing the evolution of a magnetized circumbinary",
"accretion disk up to few orbits before the BH merger. Their",
"simulations showed that magnetized plasma can indeed flow",
"in the region where the BHs merge, and in future simulations",
"we plan to use initial conditions more similar to the end result",
"of the simulations recently reported in Noble et al. (2012).$"]);
head(1408,370,977,"3. DYNAMICS");
col(1408,370,998,1062,[
"^Figure 1 shows the evolution of the rest-mass density <i>ρ</i> on",
"the equatorial plane for models <span class='tt'>B0</span> (left panels) and <span class='tt'>B2</span> (right",
"panels). The evolution of the non-magnetized model (left pan-",
"els) resembles the one described in Farris et al. (2010) with",
"the formation of two spiral shocks during the inspiral and the"]);

// page 5 left
col(3785,369,395,1066,[
"formation of a central spinning BH surrounded by a spheri-",
"cal distribution of matter accreting onto it. The magnetized",
"model (right panels) shows quite different dynamics. Dur-",
"ing the evolution the magnetic field strength increases by ap-",
"proximately two orders of magnitude and contributes signif-",
"icantly to the total pressure in the gas. Because of this,<sup style='font-size:8px'>6</sup> the",
"two shock waves that are present during the inspiral of model",
"<span class='tt'>B0</span> are strongly reduced and hardly visible (first panel in the",
"right column). Moreover, the density close to each of the two",
"BHs and in the region connecting the two BHs is much larger",
"than in the unmagnetized case. In this region it is also pos-",
"sible to see the formation of instabilities that are not present",
"without magnetic fields. Soon after the merger (second panel",
"in the right column) the spinning BH is surrounded by a disk",
"with a density a factor of ∼ 3 larger than in the unmagnetized",
"case, and two shock waves are formed and the system finally",
"relaxes to its final configuration (third panel in the right col-",
"umn). The temperature in the magnetic simulation is larger by",
"up to ∼ 40% for model <span class='tt'>B2</span> than in the unmagnetized model.$",
"^Although the evolution on the equatorial plane already",
"shows some differences due to the effect of the magnetic field,",
"the main difference is in the rest-mass density on the merid-",
"ional plane. In Figure 2 we show the rest-mass density <i>ρ</i> on",
"the <i>xz</i> plane for models <span class='tt'>B0</span> (left panel) and <span class='tt'>B2</span> (right panel) at",
"the end of the simulation (<i>t</i> ∼ 470<i>M</i>). Whereas the end result",
"of the evolution of the unmagnetized model is a plasma accret-",
"ing spherically onto a spinning BH, in the case of the magne-",
"tized model <span class='tt'>B2</span> the system forms a thin accretion disk and a",
"funnel is created around the spin axis of the BH. Although",
"at this time no relativistic jet is emitted (the Lorentz factor is",
"lower than ∼ 3 at the end of the simulation), such emission",
"might exist at later times (which are outside the scope of the",
"present Letter).$",
"^The difference between the rest-mass density distribution in",
"the unmagnetized and magnetized cases can be better under-",
"stood by looking at Figure 3, which shows the ratio of mag-",
"netic to gas pressure (i.e., the inverse of the plasma parameter",
"<i>β</i>) for the magnetized model <span class='tt'>B2</span> on the <i>xy</i> (left panel) and <i>xz</i>",
"planes (right panel) at the end of the simulation (<i>t</i> ∼ 470<i>M</i>).",
"On the equatorial plane no region is magnetically dominated",
"and the central region inside the disk has larger values of <i>β</i>",
"than in the initial conditions, but the <i>xz</i> plane shows clearly",
"the presence of a strongly magnetically dominated region"]);

// page 5 right
col(4189,369,395,538,[
"close to the spin axis of the BH with <i>β</i> ∼ 10<sup style='font-size:8px'>−2</sup>. During",
"the inspiral and merger magnetic field lines are indeed com-",
"pressed and twisted causing the magnetic field to be amplified",
"of approximately two orders of magnitude. This highly mag-",
"netized region is responsible for the creation of the thin disk",
"and its funnel. If these simulations had been run for many",
"orbital times (which would have required much larger com-",
"putational resources), the amplification of the magnetic field",
"would likely have been even larger, due to effects like the",
"magneto-rotational instability (Balbus &amp; Hawley 1991).$"]);
head(4189,369,562,"4. ELECTROMAGNETIC EMISSION");
col(4189,369,583,1108,[
"^In Figure 4 we show the evolution of the <i>z</i> component of",
"the Poynting vector on the <i>xz</i> plane for model <span class='tt'>B2</span>. We show",
"in particular its outgoing component after two orbits (first",
"panel), at the time of the merger (second panel) and at the",
"end of the simulation (third panel). One of the main differ-",
"ences with respect to force-free simulations is that we do not",
"observe the two strong and distinct jets originating from each",
"BH and the “jet” that is emitted by the system propagates",
"slowly into the medium surrounding the binary. Whereas",
"in the force-free scenarios the jet propagates in a very low-",
"density medium where the inertia of the plasma can be ne-",
"glected, in our simulations the jet has to break through the",
"infalling medium outside the binary. We also note that in our",
"scenario the emission is mainly collimated and parallel to the",
"angular momentum of the binary and to the spin of the final",
"BH with no sign of the dominant quadrupolar emission that",
"was observed in the recent force-free simulations of Mösta et",
"al. (2012). We also note that the non-collimated emission dis-",
"covered in Mösta et al. (2012) is larger than their collimated",
"emission and it is ∼ 600 times smaller than our luminosity.$",
"^Finally, in Figure 5 we show the Poynting flux luminosity",
"computed for model <span class='tt'>B2</span> (blue solid line). We have rescaled",
"our results to consider a binary system with a total mass",
"of 10<sup style='font-size:8px'>8</sup><i>M</i><sub style='font-size:8px'>⊙</sub> and immersed in a plasma with a rest-mass den-",
"sity <i>ρ</i> = 10<sup style='font-size:8px'>−11</sup> g cm<sup style='font-size:8px'>−3</sup>. This corresponds to having an ini-",
"tial magnetic field of ∼ 10<sup style='font-size:8px'>4</sup>G for model <span class='tt'>B2</span>, which is also",
"the same magnetic field strength considered in Palenzuela",
"et al. (2010b). The luminosity is computed at a distance of",
"<i>z</i> = 10<i>M</i>. Model <span class='tt'>B2</span> shows the characteristic increase in lu-",
"minosity during the inspiral, with a peak corresponding to the",
"time of the merger, followed by a drop-off of a factor ∼ 2.",
"This is qualitatively similar to what is observed in force-free",
"simulations (Palenzuela et al. 2010b), but our actual lumi-",
"nosities are considerably higher. This happens because in our"]);
</script>
</body></html>
